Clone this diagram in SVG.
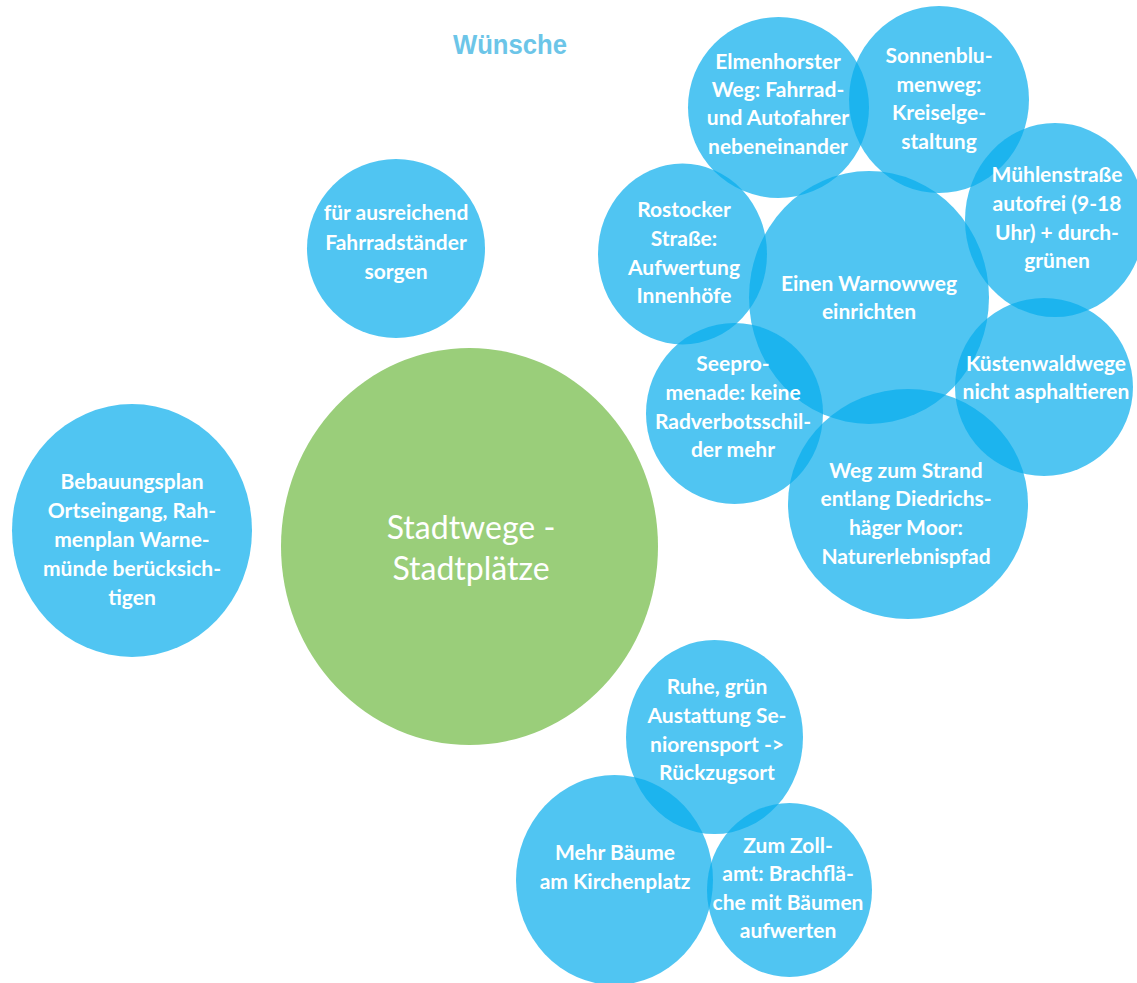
<svg xmlns="http://www.w3.org/2000/svg" width="1137" height="983" viewBox="0 0 1137 983">
<style>
.b{fill:#05ADED;fill-opacity:0.7}
.g{fill:#9ACE7A}
.t{font-family:Lato,"Liberation Sans",sans-serif;font-weight:700;font-size:21px;fill:#fff;text-anchor:middle}
.m{font-family:Lato,"Liberation Sans",sans-serif;font-weight:400;font-size:32px;fill:#fff;text-anchor:middle}
.h{font-family:"Liberation Sans",Arial,sans-serif;font-weight:700;font-size:28px;fill:#6CC5E8}
</style>
<rect width="1137" height="983" fill="#fff"/>
<text class="h" x="453" y="54" textLength="114" lengthAdjust="spacingAndGlyphs">Wünsche</text>
<g id="connectors"/>
<g id="n-bebauung">
<ellipse class="b" cx="132" cy="530.5" rx="120" ry="126.5"/>
<text class="t" x="132"><tspan x="132" y="489">Bebauungsplan</tspan><tspan x="132" y="518">Ortseingang, Rah-</tspan><tspan x="132" y="547">menplan Warne-</tspan><tspan x="132" y="576">münde berücksich-</tspan><tspan x="132" y="605">tigen</tspan></text>
</g>
<g id="n-fahrrad">
<ellipse class="b" cx="396" cy="248.5" rx="89" ry="89.5"/>
<text class="t"><tspan x="396" y="220">für ausreichend</tspan><tspan x="396" y="250">Fahrradständer</tspan><tspan x="396" y="279">sorgen</tspan></text>
</g>
<g id="n-center">
<ellipse class="g" cx="469.5" cy="546.5" rx="188.5" ry="198.5"/>
<text class="m"><tspan x="471" y="539">Stadtwege -</tspan><tspan x="471" y="580">Stadtplätze</tspan></text>
</g>
<g id="n-sonnen">
<ellipse class="b" cx="939" cy="99.5" rx="90" ry="93.5"/>
<text class="t"><tspan x="939" y="63">Sonnenblu-</tspan><tspan x="939" y="92">menweg:</tspan><tspan x="939" y="120">Kreiselge-</tspan><tspan x="939" y="149">staltung</tspan></text>
</g>
<g id="n-elmenhorst">
<ellipse class="b" cx="778.5" cy="107.5" rx="90.5" ry="90.5"/>
<text class="t"><tspan x="778" y="69">Elmenhorster</tspan><tspan x="778" y="97">Weg: Fahrrad-</tspan><tspan x="778" y="125">und Autofahrer</tspan><tspan x="778" y="154">nebeneinander</tspan></text>
</g>
<g id="n-warnow">
<ellipse class="b" cx="869" cy="297.5" rx="120" ry="126.5"/>
<text class="t"><tspan x="869" y="291">Einen Warnowweg</tspan><tspan x="869" y="319">einrichten</tspan></text>
</g>
<g id="n-rostock">
<ellipse class="b" cx="682.5" cy="254" rx="84.5" ry="90.5"/>
<text class="t"><tspan x="684" y="217">Rostocker</tspan><tspan x="684" y="246">Straße:</tspan><tspan x="684" y="275">Aufwertung</tspan><tspan x="684" y="303">Innenhöfe</tspan></text>
</g>
<g id="n-seepromenade">
<ellipse class="b" cx="734.5" cy="413.5" rx="88.5" ry="90.5"/>
<text class="t"><tspan x="733" y="371">Seepro-</tspan><tspan x="733" y="400">menade: keine</tspan><tspan x="733" y="429">Radverbotsschil-</tspan><tspan x="733" y="457">der mehr</tspan></text>
</g>
<g id="n-strand">
<ellipse class="b" cx="908" cy="504" rx="120" ry="115"/>
<text class="t"><tspan x="906" y="478">Weg zum Strand</tspan><tspan x="906" y="506">entlang Diedrichs-</tspan><tspan x="906" y="535">häger Moor:</tspan><tspan x="906" y="564">Naturerlebnispfad</tspan></text>
</g>
<g id="n-kuesten">
<ellipse class="b" cx="1044" cy="387" rx="89" ry="89"/>
<text class="t"><tspan x="1046" y="371">Küstenwaldwege</tspan><tspan x="1046" y="399">nicht asphaltieren</tspan></text>
</g>
<g id="n-muehlen">
<ellipse class="b" cx="1055" cy="220" rx="90" ry="97"/>
<text class="t"><tspan x="1057" y="182">Mühlenstraße</tspan><tspan x="1057" y="211">autofrei (9-18</tspan><tspan x="1057" y="240">Uhr) + durch-</tspan><tspan x="1057" y="268">grünen</tspan></text>
</g>
<g id="n-ruhe">
<ellipse class="b" cx="714.5" cy="737" rx="88.5" ry="97"/>
<text class="t"><tspan x="717" y="694">Ruhe, grün</tspan><tspan x="717" y="723">Austattung Se-</tspan><tspan x="717" y="752">niorensport -&gt;</tspan><tspan x="717" y="780">Rückzugsort</tspan></text>
</g>
<g id="n-baeume">
<ellipse class="b" cx="614.5" cy="880" rx="98.5" ry="105"/>
<text class="t"><tspan x="615" y="860">Mehr Bäume</tspan><tspan x="615" y="889">am Kirchenplatz</tspan></text>
</g>
<g id="n-zollamt">
<ellipse class="b" cx="789.5" cy="890" rx="82.5" ry="87"/>
<text class="t"><tspan x="788" y="853">Zum Zoll-</tspan><tspan x="788" y="881">amt: Brachflä-</tspan><tspan x="788" y="910">che mit Bäumen</tspan><tspan x="788" y="938">aufwerten</tspan></text>
</g>
</svg>
